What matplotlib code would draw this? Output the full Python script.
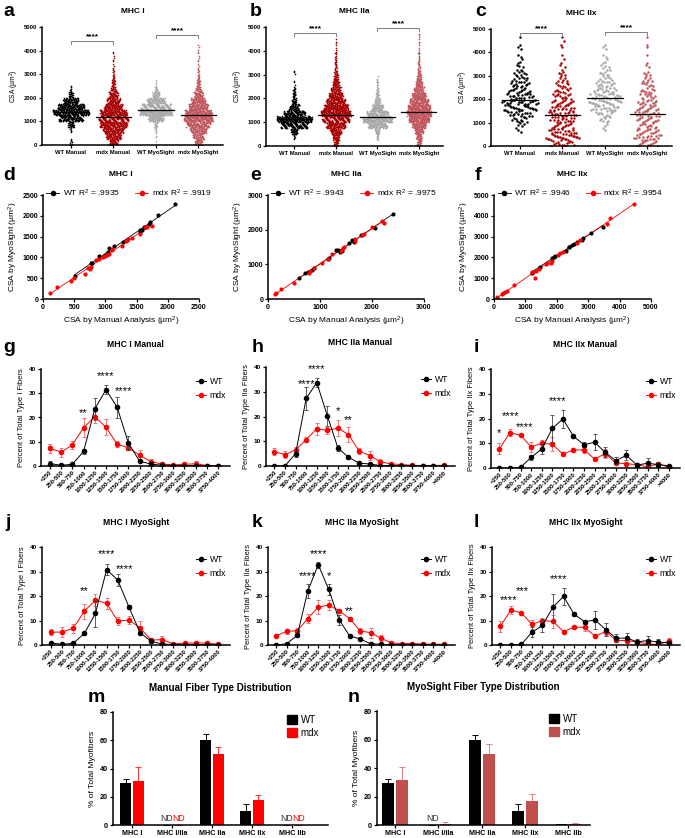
import numpy as np
import matplotlib
matplotlib.use('Agg')
import matplotlib.pyplot as plt
from matplotlib.lines import Line2D
from matplotlib.patches import Patch

plt.rcParams['font.family'] = ['Liberation Sans', 'DejaVu Sans']
plt.rcParams['font.weight'] = 'bold'
plt.rcParams['mathtext.default'] = 'regular'

# ---------------- DATA ----------------
swarm_groups = ['WT Manual', 'mdx Manual', 'WT MyoSight', 'mdx MyoSight']
swarm_bin = 250  # counts per 250 µm² bin starting at 0
a_counts = [
    [3, 0, 2, 10, 40, 60, 45, 25, 8, 2],
    [15, 25, 35, 45, 50, 45, 30, 22, 15, 9, 5, 3, 2, 1, 1, 1],
    [1, 1, 2, 5, 25, 55, 50, 30, 12, 4, 1],
    [12, 18, 28, 40, 48, 45, 32, 24, 15, 9, 5, 3, 2, 1, 1, 1, 1],
]
b_counts = [
    [0, 2, 12, 50, 65, 40, 18, 8, 5, 3, 1, 0, 1],
    [8, 12, 20, 35, 50, 55, 45, 35, 25, 18, 12, 8, 5, 3, 2, 2, 1, 1],
    [0, 3, 8, 35, 55, 40, 20, 10, 5, 3, 2, 1],
    [8, 10, 15, 25, 38, 45, 42, 35, 25, 18, 12, 8, 5, 3, 2, 2, 1, 1, 1],
]
c_counts = [
    [0, 0, 2, 5, 10, 16, 22, 24, 18, 14, 12, 10, 8, 4, 3, 2, 2, 1, 1],
    [15, 22, 18, 14, 16, 18, 16, 14, 12, 10, 8, 6, 4, 3, 2, 1, 1, 2, 1],
    [0, 0, 1, 3, 7, 12, 18, 22, 20, 15, 12, 9, 7, 5, 3, 2, 2, 1],
    [14, 18, 14, 12, 14, 16, 14, 12, 10, 9, 7, 6, 4, 2, 1, 1, 1, 1, 1],
]
a_means = [1400, 1180, 1500, 1270]
b_means = [1150, 1320, 1210, 1420]
c_means = [1950, 1320, 2030, 1360]

# correlation panels (manual, myosight)
d_wt_x = [510, 770, 780, 900, 1000, 1040, 1060, 1130, 1280, 1350, 1550, 1560, 1580, 1620, 1640, 1700, 1720, 1840, 2120]
d_wt_y = [560, 860, 870, 1040, 1060, 1120, 1220, 1270, 1380, 1410, 1600, 1650, 1670, 1730, 1740, 1800, 1850, 2010, 2280]
d_mdx_x = [110, 230, 450, 500, 680, 720, 750, 770, 850, 900, 960, 1000, 1030, 1050, 1100, 1110, 1270, 1330, 1360, 1430, 1560, 1630, 1660, 1750]
d_mdx_y = [150, 280, 440, 510, 600, 750, 720, 760, 930, 950, 1010, 1030, 1060, 1080, 1170, 1190, 1280, 1400, 1440, 1460, 1560, 1720, 1720, 1760]
e_wt_x = [590, 720, 770, 850, 880, 1160, 1180, 1300, 1340, 1380, 1420, 1550, 1620, 1660, 1780, 2050, 2410]
e_wt_y = [600, 740, 770, 850, 880, 1150, 1170, 1420, 1400, 1360, 1380, 1620, 1700, 1650, 1850, 2060, 2450]
e_mdx_x = [130, 160, 250, 500, 780, 800, 890, 1030, 1150, 1230, 1400, 1440, 1460, 1670, 1680, 1800, 1850, 2000, 2200, 2230]
e_mdx_y = [130, 160, 300, 470, 760, 800, 890, 1030, 1160, 1290, 1380, 1480, 1500, 1740, 1680, 1840, 1880, 2080, 2250, 2180]
f_wt_x = [1200, 1480, 1850, 1900, 1950, 2280, 2380, 2400, 2480, 2550, 2650, 2800, 2830, 3080, 3460]
f_wt_y = [1230, 1560, 1960, 2040, 2090, 2290, 2480, 2520, 2600, 2630, 2760, 2840, 2920, 3180, 3480]
f_mdx_x = [100, 250, 300, 350, 400, 640, 1200, 1250, 1320, 1350, 1420, 1650, 1700, 1800, 1850, 2050, 2100, 2200, 2630, 2750, 3600, 3700, 4450]
f_mdx_y = [80, 230, 280, 350, 400, 660, 1280, 1320, 1000, 1370, 1420, 1700, 1740, 1750, 1850, 2100, 2200, 2250, 2700, 2820, 3600, 3900, 4550]
r2 = {'d': ('.9935', '.9919'), 'e': ('.9943', '.9975'), 'f': ('.9946', '.9954')}

bins16 = ['<250', '250-500', '500-750', '750-1000', '1000-1250', '1250-1500', '1500-1750',
          '1750-2000', '2000-2250', '2250-2500', '2500-2750', '2750-3000', '3000-3250',
          '3250-3500', '3500-3750', '3750-4000']
bins17 = bins16 + ['>4000']

g_wt = [1, 0.3, 0.7, 6, 23.5, 31.5, 24.2, 9.5, 2, 0.8, 0.3, 0.2, 0.2, 0.2, 0.1, 0.1]
g_wt_err = [1, 0.3, 0.3, 1.2, 4.5, 2, 4.3, 3, 0.3, 0.5, 0.2, 0.1, 0.1, 0.1, 0.1, 0.1]
g_mdx = [7.3, 5.7, 8.7, 15.8, 20.3, 16, 9, 7.5, 4.5, 1.8, 0.8, 0.5, 0.7, 0.9, 0.2, 0.1]
g_mdx_err = [1.8, 1.8, 1.8, 3.8, 2.5, 3.2, 1.2, 1, 2.2, 1.2, 0.8, 0.5, 0.5, 1, 0.2, 0.2]
h_wt = [0, 0.1, 5, 27.3, 33.7, 20.3, 7.3, 3.5, 1.2, 0.8, 0.2, 0.1, 0.1, 0.1, 0, 0, 0]
h_wt_err = [0, 0.2, 1.5, 4.5, 1.8, 4, 1.2, 0.5, 0.3, 0.5, 0.2, 0.1, 0.1, 0.1, 0, 0, 0]
h_mdx = [5.8, 4.6, 6.5, 10.7, 15, 14.4, 15.3, 12.7, 6, 4.2, 1.8, 0.8, 0.6, 0.3, 0.2, 0.2, 0.3]
h_mdx_err = [1.5, 1.3, 1, 1, 2.3, 1.5, 3.3, 3, 1.2, 1.8, 1, 0.4, 0.4, 0.3, 0.2, 0.2, 0.2]
i_wt = [0, 0, 0.3, 4.3, 7.7, 16, 19.8, 12.8, 9.4, 10.4, 6.3, 3, 5.1, 1.2, 1.9, 1.4, 0.9]
i_wt_err = [0, 0, 0.2, 1, 2, 5.3, 3.5, 0.5, 1, 3.3, 2, 1.3, 2, 0.5, 2, 1, 0.3]
i_mdx = [7.8, 14.3, 13.2, 8.5, 10, 9.6, 5.6, 7.3, 7.3, 3.6, 5.8, 2, 1.8, 1.3, 0.5, 1.7, 0.3]
i_mdx_err = [2.2, 1.5, 0.4, 2, 1.3, 2.8, 0.3, 0.3, 1.3, 0.3, 1.8, 0.5, 0.3, 0.3, 0.3, 0.8, 0.2]
j_wt = [0.8, 0.3, 0.7, 4.7, 13, 30.8, 26.5, 15.5, 5, 1.5, 0.4, 0.2, 0.2, 0.2, 0.1, 0.1]
j_wt_err = [0.5, 0.2, 0.3, 0.5, 5.5, 2.4, 2.5, 1, 0.6, 0.5, 0.3, 0.1, 0.1, 0.1, 0.1, 0.1]
j_mdx = [5.2, 5.3, 6.8, 13.8, 18.3, 17, 9.8, 10.2, 7, 2, 2.2, 0.4, 0.8, 0.8, 0.8, 0.3]
j_mdx_err = [1.2, 2, 1.8, 3, 2.5, 2.3, 1.8, 1.8, 2.8, 0.8, 1.5, 0.3, 0.5, 0.5, 0.8, 0.3]
k_wt = [0, 0.5, 4, 22, 32.8, 22.7, 10.3, 3.7, 2.5, 0.5, 0.3, 0.1, 0.1, 0.1, 0, 0, 0]
k_wt_err = [0, 0.3, 0.6, 3, 1.2, 2.2, 2, 0.4, 0.3, 0.3, 0.2, 0.1, 0.1, 0.1, 0, 0, 0]
k_mdx = [3.8, 5.6, 5.8, 10.8, 15.5, 16.3, 14, 10.8, 5.8, 5, 2.8, 0.8, 0.6, 0.6, 0.4, 0.3, 0.3]
k_mdx_err = [0.4, 1, 1, 2, 3, 2, 0.5, 0.8, 1.3, 2, 1.3, 0.5, 0.4, 0.4, 0.3, 0.3, 0.3]
l_wt = [0, 0, 0.3, 5.2, 8, 15.5, 19.8, 12.6, 9.5, 10.2, 6.3, 2.8, 2.8, 1.3, 1.8, 1.2, 0.9]
l_wt_err = [0, 0, 0.2, 2, 2.5, 5.5, 3.3, 0.7, 0.8, 3.5, 2.8, 1.5, 2.3, 1, 1.8, 1.2, 0.8]
l_mdx = [7.7, 14.3, 13.1, 8.4, 10, 9.6, 5.5, 7.3, 7.2, 3.6, 5.5, 1.9, 1.8, 1.2, 0.5, 0.2, 1.5]
l_mdx_err = [2.3, 1.5, 0.4, 2, 1.2, 2.8, 0.4, 0.5, 1.3, 0.4, 1.6, 0.6, 0.6, 0.5, 0.4, 0.3, 1.2]

g_stars = [(3, 22, '**'), (5, 37, '****'), (6.6, 31, '****')]
h_stars = [(3, 33, '****'), (4, 39, '****'), (6, 22, '*'), (7, 18.5, '**')]
i_stars = [(0, 14, '*'), (1, 21, '****'), (2.4, 16.5, '****'), (5.5, 27, '****')]
j_stars = [(3, 22, '**'), (5, 37, '****'), (6.6, 31, '****')]
k_stars = [(3, 28, '****'), (4, 37, '****'), (5, 28, '*'), (7, 14, '**')]
l_stars = [(0.8, 18.5, '****'), (2.1, 22, '***'), (5.5, 27, '****')]

bar_cats = ['MHC I', 'MHC I/IIa', 'MHC IIa', 'MHC IIx', 'MHC IIb']
m_wt = [29.5, 0, 60, 10, 0]
m_wt_err = [3, 0, 4.5, 5, 0]
m_mdx = [31.5, 0, 50, 17.5, 0]
m_mdx_err = [9.5, 0, 5.5, 3.5, 0]
m_nd = [(1, 'WT'), (1, 'mdx'), (4, 'WT'), (4, 'mdx')]
n_wt = [29.5, 0, 59.5, 10, 0.5]
n_wt_err = [3, 0, 4, 4.5, 0.2]
n_mdx = [31.5, 0.8, 49.5, 17, 0.8]
n_mdx_err = [9, 1.2, 7.5, 4.5, 0.5]
n_nd = [(1, 'WT')]

# ---------------- LAYOUT ----------------
W, H = 685, 838
fig = plt.figure(figsize=(W / 100, H / 100), dpi=100)


def add_ax(x0, y0, x1, y1):
    return fig.add_axes([x0 / W, 1 - y1 / H, (x1 - x0) / W, (y1 - y0) / H])


def style(ax, lw=1.1, ls=4.5):
    for s in ['top', 'right']:
        ax.spines[s].set_visible(False)
    for s in ['left', 'bottom']:
        ax.spines[s].set_linewidth(lw)
    ax.tick_params(width=lw * 0.8, length=2.5, labelsize=ls, pad=1)


def letter(x, y, t):
    fig.text(x / W, 1 - y / H, t, fontsize=14, fontweight='bold', va='center', ha='left')


swarm_colors = ['#000000', '#a80000', '#a8a8a8', '#c0555b']
PHI = 0.6180339887


def swarm(ax, pos, counts, color, maxc, dots, ms, hwmax):
    xs, ys = [], []
    for i, n in enumerate(counts):
        if n == 0:
            continue
        total = int(round(n * dots))
        hw = n / maxc * hwmax
        if total == 1:
            offs = np.array([0.0])
        else:
            offs = np.linspace(-hw, hw, total)
        # spread points through the bin height with a low-discrepancy layout
        fr = (np.arange(total) * PHI + i * 0.37) % 1.0
        order = np.argsort((np.arange(total) * 0.7548776662) % 1.0)
        xs.extend(pos + offs[order])
        ys.extend(i * swarm_bin + fr * swarm_bin)
    ax.scatter(xs, ys, s=ms, color=color, linewidths=0, zorder=2)


def swarm_panel(box, counts, means, title, brackets, dots, ms):
    ax = add_ax(*box)
    style(ax, ls=4.2)
    maxc = max(max(c) for c in counts)
    for p, (c, col) in enumerate(zip(counts, swarm_colors)):
        swarm(ax, p, c, col, maxc, dots, ms, 0.42)
        ax.plot([p - 0.42, p + 0.42], [means[p], means[p]], color='black', lw=0.9, zorder=3)
    ax.set_xlim(-0.68, 3.58)
    ax.set_ylim(0, 5000)
    ax.set_yticks([0, 1000, 2000, 3000, 4000, 5000])
    ax.set_xticks(range(4))
    ax.set_xticklabels(swarm_groups, fontsize=4.2)
    ax.set_ylabel('CSA (µm$^2$)', fontsize=4.8, labelpad=2)
    ax.set_title(title, fontsize=6, fontweight='bold', pad=10)
    for (x0, x1, y) in brackets:
        ax.plot([x0, x0, x1, x1], [y - 120, y, y, y - 120], color='#7f7f7f', lw=0.7, clip_on=False)
        ax.text((x0 + x1) / 2, y + 40, '****', ha='center', va='bottom', fontsize=6, clip_on=False)
    return ax


swarm_panel((42, 27, 223, 145), a_counts, a_means, 'MHC I', [(0, 1, 4420), (2, 3, 4670)], 3, 1.4)
swarm_panel((266, 27, 443, 146), b_counts, b_means, 'MHC IIa', [(0, 1, 4735), (2, 3, 4958)], 3, 1.4)
swarm_panel((491, 29, 672, 146), c_counts, c_means, 'MHC IIx', [(0, 1, 4816), (2, 3, 4860)], 1, 3.2)
letter(3, 12, 'a')
letter(250, 12, 'b')
letter(475, 12, 'c')


def corr_panel(box, wx, wy, mx, my, lim, step, title, r2s):
    ax = add_ax(*box)
    style(ax, ls=5)
    for x, y, col in [(wx, wy, 'black'), (mx, my, 'red')]:
        x = np.array(x, float)
        y = np.array(y, float)
        c = np.polyfit(x, y, 1)
        xx = np.array([x.min(), x.max()])
        ax.plot(xx, np.polyval(c, xx), color=col, lw=0.6, zorder=1)
        ax.scatter(x, y, s=9, color=col, linewidths=0, zorder=2)
    h = [Line2D([0], [0], color='black', lw=0.6, marker='o', ms=3),
         Line2D([0], [0], color='red', lw=0.6, marker='o', ms=3)]
    leg = ax.legend(h, ['WT R$^2$ = ' + r2s[0], 'mdx R$^2$ = ' + r2s[1]], ncol=2, loc='center',
                    bbox_to_anchor=(0.55, 1.02), frameon=False, fontsize=6, handlelength=1.6,
                    columnspacing=1.8, handletextpad=0.4, borderaxespad=0)
    for t in leg.get_texts():
        t.set_fontweight('normal')
    ax.set_xlim(0, lim)
    ax.set_ylim(0, lim)
    ax.set_xticks(np.arange(0, lim + 1, step))
    ax.set_yticks(np.arange(0, lim + 1, step))
    ax.set_xlabel('CSA by Manual Analysis (µm$^2$)', fontsize=6, labelpad=3)
    ax.set_ylabel('CSA by MyoSight (µm$^2$)', fontsize=6, labelpad=2)
    ax.set_title(title, fontsize=6, fontweight='bold', pad=14)
    return ax


corr_panel((43, 195, 199, 299), d_wt_x, d_wt_y, d_mdx_x, d_mdx_y, 2500, 500, 'MHC I', r2['d'])
corr_panel((268, 195, 424, 299), e_wt_x, e_wt_y, e_mdx_x, e_mdx_y, 3000, 1000, 'MHC IIa', r2['e'])
corr_panel((494, 195, 651, 299), f_wt_x, f_wt_y, f_mdx_x, f_mdx_y, 5000, 1000, 'MHC IIx', r2['f'])
letter(3, 175, 'd')
letter(250, 175, 'e')
letter(475, 175, 'f')


def hist_panel(box, cats, wt, wte, mdx, mdxe, stars, title, ylabel):
    ax = add_ax(*box)
    style(ax, ls=4.6)
    x = np.arange(len(cats))
    ax.errorbar(x, wt, yerr=wte, color='black', ecolor='#444444', marker='o', ms=3, lw=0.7,
                elinewidth=0.6, capsize=1.6, capthick=0.6, zorder=3)
    ax.errorbar(x, mdx, yerr=mdxe, color='#ff0000', ecolor='#f06060', marker='o', ms=3, lw=0.7,
                elinewidth=0.6, capsize=1.6, capthick=0.6, zorder=2)
    for sx, sy, st in stars:
        ax.text(sx, sy, st, ha='center', va='center', fontsize=8, fontweight='normal')
    ax.set_xlim(-0.8, len(cats) - 1 + 1.07)
    ax.set_ylim(0, 40)
    ax.set_yticks([0, 10, 20, 30, 40])
    ax.set_xticks(x)
    ax.set_xticklabels(cats, rotation=45, ha='right', rotation_mode='anchor', fontsize=4.3)
    ax.tick_params(axis='x', length=1.8)
    ax.set_ylabel(ylabel, fontsize=5.4, labelpad=3)
    ax.set_title(title, fontsize=6.2, fontweight='bold', pad=16)
    h = [Line2D([0], [0], color='black', lw=0.7, marker='o', ms=3),
         Line2D([0], [0], color='red', lw=0.7, marker='o', ms=3)]
    leg = ax.legend(h, ['WT', 'mdx'], loc='upper right', bbox_to_anchor=(1.02, 1.0), frameon=False,
                    fontsize=6.2, handlelength=1.2, handletextpad=0.4, labelspacing=0.6)
    for t in leg.get_texts():
        t.set_fontweight('normal')
    return ax


hist_panel((41, 369, 230, 466), bins16, g_wt, g_wt_err, g_mdx, g_mdx_err, g_stars,
           'MHC I Manual', 'Percent of Total Type I Fibers')
hist_panel((266, 367, 455, 466), bins17, h_wt, h_wt_err, h_mdx, h_mdx_err, h_stars,
           'MHC IIa Manual', 'Percent of Total Type IIa Fibers')
hist_panel((491, 369, 680, 468), bins17, i_wt, i_wt_err, i_mdx, i_mdx_err, i_stars,
           'MHC IIx Manual', 'Percent of Total Type IIx Fibers')
hist_panel((42, 547, 230, 645), bins16, j_wt, j_wt_err, j_mdx, j_mdx_err, j_stars,
           'MHC I MyoSight', 'Percent of Total Type I Fibers')
hist_panel((268, 547, 455, 645), bins17, k_wt, k_wt_err, k_mdx, k_mdx_err, k_stars,
           'MHC IIa MyoSight', 'Percent of Total Type IIa Fibers')
hist_panel((492, 547, 680, 645), bins17, l_wt, l_wt_err, l_mdx, l_mdx_err, l_stars,
           'MHC IIx MyoSight', 'Percent of Total Type IIx Fibers')
letter(3, 347, 'g')
letter(252, 348, 'h')
letter(474, 348, 'i')
letter(5, 522, 'j')
letter(252, 522, 'k')
letter(474, 522, 'l')


def bar_panel(box, wt, wte, mdx, mdxe, nd, mdx_col, mdx_ecol, title, xlim):
    ax = add_ax(*box)
    style(ax, ls=5.2)
    x = np.arange(len(bar_cats))
    bw = 0.27
    ax.bar(x - 0.16, wt, bw, color='black', zorder=2)
    ax.bar(x + 0.16, mdx, bw, color=mdx_col, zorder=2)
    ax.errorbar(x - 0.16, wt, yerr=[[0] * len(wt), wte], fmt='none', ecolor='black', elinewidth=0.7,
                capsize=2.2, capthick=0.7, zorder=1)
    ax.errorbar(x + 0.16, mdx, yerr=[[0] * len(mdx), mdxe], fmt='none', ecolor=mdx_ecol, elinewidth=0.7,
                capsize=2.2, capthick=0.7, zorder=1)
    for xi, grp in nd:
        if grp == 'WT':
            ax.text(xi - 0.14, 1.5, 'ND', ha='center', va='bottom', fontsize=6.2, fontweight='normal',
                    color='#333333')
        else:
            ax.text(xi + 0.16, 1.5, 'ND', ha='center', va='bottom', fontsize=6.2, fontweight='normal',
                    color='red')
    ax.set_xlim(*xlim)
    ax.set_ylim(0, 80)
    ax.set_yticks([0, 20, 40, 60, 80])
    ax.set_xticks(x)
    ax.set_xticklabels(bar_cats, fontsize=5.2)
    ax.set_ylabel('% of Total Myofibers', fontsize=6, labelpad=3)
    ax.set_title(title, fontsize=7, fontweight='bold', pad=15)
    h = [Patch(color='black'), Patch(color=mdx_col)]
    leg = ax.legend(h, ['WT', 'mdx'], loc='upper right', bbox_to_anchor=(1.0, 1.05), frameon=False,
                    fontsize=7, handlelength=1.0, handleheight=1.0, handletextpad=0.4, labelspacing=0.3)
    for t in leg.get_texts():
        t.set_fontweight('normal')
    return ax


bar_panel((113, 712, 328, 825), m_wt, m_wt_err, m_mdx, m_mdx_err, m_nd, '#ff0000', '#ff3030',
          'Manual Fiber Type Distribution', (-0.475, 4.9))
bar_panel((377, 711, 590, 825), n_wt, n_wt_err, n_mdx, n_mdx_err, n_nd, '#c0504d', '#e08080',
          'MyoSight Fiber Type Distribution', (-0.42, 4.5))
letter(88, 697, 'm')
letter(348, 697, 'n')

fig.savefig('out.png', dpi=100)
